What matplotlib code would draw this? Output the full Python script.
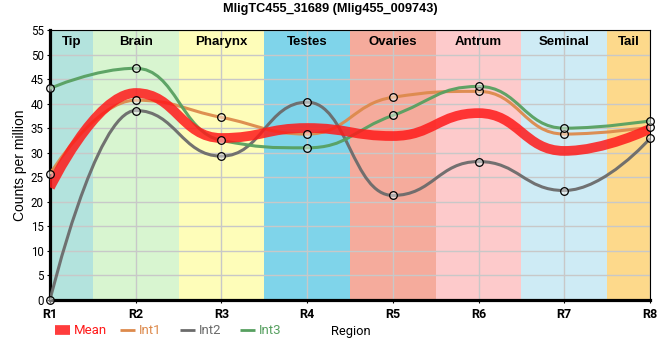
import matplotlib
matplotlib.use("Agg")
import matplotlib.pyplot as plt
import numpy as np
from matplotlib.path import Path
from matplotlib.patches import PathPatch
from matplotlib.lines import Line2D

# dados
regioes = ["R1", "R2", "R3", "R4", "R5", "R6", "R7", "R8"]
faixas = ["Tip", "Brain", "Pharynx", "Testes", "Ovaries", "Antrum", "Seminal", "Tail"]
cores_faixas = ["#b3e3dd", "#d8f5d0", "#fefdb9", "#7fd4ea", "#f5ab9c", "#fdcacb", "#ceebf5", "#fdd98b"]
int1 = [25.7, 40.7, 37.2, 33.8, 41.3, 42.5, 33.8, 35.2]
int2 = [0.0, 38.6, 29.3, 40.3, 21.3, 28.2, 22.3, 32.9]
int3 = [43.1, 47.2, 32.5, 31.0, 37.6, 43.5, 35.0, 36.5]
media = list(np.mean([int1, int2, int3], axis=0))

titulo = "MligTC455_31689 (Mlig455_009743)"


def caminho_spline(x, y, suav=1.15):
    # spline com pontos de controle, sem falsos extremos
    n = len(x)
    denom = suav + 1
    dir_cont = [None] * n
    verts = [(x[0], y[0])]
    codes = [Path.MOVETO]
    for i in range(1, n):
        px, py = x[i], y[i]
        lx, ly = x[i - 1], y[i - 1]
        esq_x, esq_y = px, py
        if i < n - 1:
            nx, ny = x[i + 1], y[i + 1]
            esq_x = (suav * px + lx) / denom
            esq_y = (suav * py + ly) / denom
            dx = (suav * px + nx) / denom
            dy = (suav * py + ny) / denom
            corr = (dy - esq_y) * (dx - px) / (dx - esq_x) + py - dy
            esq_y += corr
            dy += corr
            if esq_y > ly and esq_y > py:
                esq_y = max(ly, py)
                dy = 2 * py - esq_y
            elif esq_y < ly and esq_y < py:
                esq_y = min(ly, py)
                dy = 2 * py - esq_y
            if dy > ny and dy > py:
                dy = max(ny, py)
                esq_y = 2 * py - dy
            elif dy < ny and dy < py:
                dy = min(ny, py)
                esq_y = 2 * py - dy
            dir_cont[i] = (dx, dy)
        c1 = dir_cont[i - 1] if dir_cont[i - 1] is not None else (lx, ly)
        verts += [c1, (esq_x, esq_y), (px, py)]
        codes += [Path.CURVE4] * 3
    return Path(verts, codes)


fig = plt.figure(figsize=(6.6, 3.6), dpi=100)
ax = fig.add_axes([50 / 660, 60 / 360, 600 / 660, 270 / 360])
xs = list(range(len(regioes)))

# faixas de fundo
for i, (nome, cor) in enumerate(zip(faixas, cores_faixas)):
    ax.axvspan(max(i - 0.5, 0), min(i + 0.5, len(regioes) - 1), color=cor, lw=0, zorder=0)
    ax.text(min(max(i, 0.25), len(regioes) - 1.25), 52.6, nome, ha="center", va="center",
            fontsize=9.5, fontweight="bold", family="Liberation Sans", zorder=1)

ax.grid(True, color="#c8c8c8", lw=1, zorder=1)
ax.set_axisbelow(True)

series = [
    (int1, "#dd8a4c", "Int1"),
    (int2, "#6b6b6b", "Int2"),
    (int3, "#57a060", "Int3"),
]
for valores, cor, nome in series:
    ax.add_patch(PathPatch(caminho_spline(xs, valores), fc="none", ec=cor, lw=2.2, alpha=0.95, zorder=3))
ax.add_patch(PathPatch(caminho_spline(xs, media), fc="none", ec="#ff1a1a", lw=7, alpha=0.85, zorder=4))

for valores, cor, nome in series:
    ax.plot(xs, valores, ls="none", marker="o", ms=5.5, mfc=(1, 1, 1, 0.45), mec="black", mew=0.9,
            zorder=5, clip_on=False)

ax.set_xlim(0, len(regioes) - 1)
ax.set_ylim(0, 55)
ax.set_yticks(np.arange(0, 56, 5))
ax.set_xticks(xs)
ax.set_xticklabels(regioes, fontsize=9, fontweight="bold", family="Roboto")
for lab in ax.get_yticklabels():
    lab.set_fontsize(8.3)
    lab.set_family("Roboto")
ax.tick_params(axis="both", length=2.5, width=0.8, pad=2)
ax.tick_params(axis="x", pad=3)

ax.spines["left"].set_linewidth(2.3)
ax.spines["bottom"].set_linewidth(2.3)
ax.spines["top"].set_linewidth(0.8)
ax.spines["right"].set_linewidth(0.8)

ax.set_ylabel("Counts per million", fontsize=10, family="Liberation Sans", labelpad=3)
fig.text(0.5, 1 - 9 / 360, titulo, ha="center", va="center", fontsize=9.2, fontweight="bold",
         family="Liberation Sans")
fig.text(331 / 660, 1 - 332 / 360, "Region", ha="left", va="center", fontsize=9.3, family="Roboto")

# legenda feita a mao
itens = [("Mean", "#ff1a1a", 7, 55, 0.85), ("Int1", "#dd8a4c", 2, 120, 1), ("Int2", "#6b6b6b", 2, 180, 1),
         ("Int3", "#57a060", 2, 240, 1)]
ly = 1 - 330 / 360
for nome, cor, lw, x0, alfa in itens:
    fig.add_artist(Line2D([x0 / 660, (x0 + 15) / 660], [ly, ly], color=cor, lw=lw, alpha=alfa,
                          solid_capstyle="butt", transform=fig.transFigure))
    fig.text((x0 + 19) / 660, ly, nome, color=cor, ha="left", va="center", fontsize=9.5, family="Roboto")

fig.savefig("out.png", dpi=100)
